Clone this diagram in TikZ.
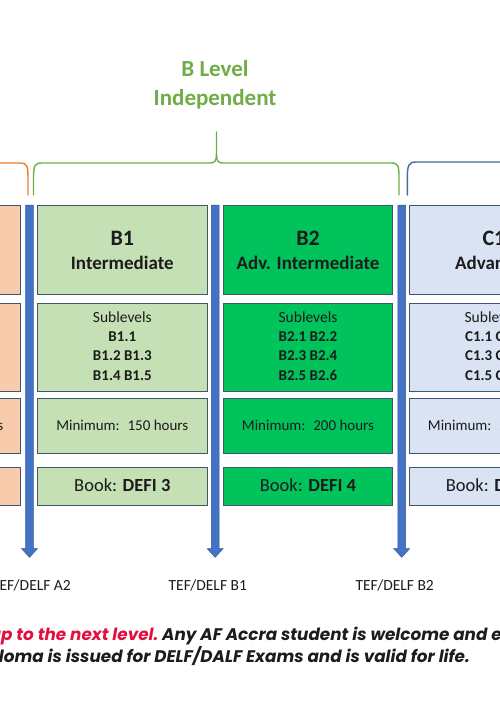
\documentclass[tikz,border=0pt]{standalone}
\usepackage{fontspec}
\setmainfont{Carlito}
\newfontfamily\popfont{Poppins}
\definecolor{peach}{HTML}{F8CBAD}
\definecolor{lgreen}{HTML}{C5E0B4}
\definecolor{bgreen}{HTML}{00C35C}
\definecolor{lblue}{HTML}{DAE3F3}
\definecolor{edge}{HTML}{3E5670}
\definecolor{arrowblue}{HTML}{4472C4}
\definecolor{arrowdark}{HTML}{35599A}
\definecolor{titlegreen}{HTML}{70AD47}
\definecolor{braceorange}{HTML}{ED7D31}
\definecolor{braceblue}{HTML}{4A6A9A}
\definecolor{redtxt}{HTML}{E2103E}
\definecolor{txt}{HTML}{1C1C1C}
\begin{document}
\begin{tikzpicture}[x=1pt,y=-1pt,
  box/.style={draw=edge, line width=0.8pt, minimum width=169.5pt, inner sep=0pt},
  lvl/.style={anchor=base, inner sep=0pt, text=txt, font=\bfseries\fontsize{22}{26}\selectfont},
  lvlname/.style={anchor=base, inner sep=0pt, text=txt, font=\bfseries\fontsize{19}{22}\selectfont},
  subhead/.style={anchor=base, inner sep=0pt, text=txt, font=\fontsize{15.5}{18}\selectfont},
  subcode/.style={anchor=base, inner sep=0pt, text=txt, font=\bfseries\fontsize{15}{18}\selectfont},
  hrs/.style={anchor=base, inner sep=0pt, text=txt, font=\fontsize{15}{18}\selectfont},
  book/.style={anchor=base, inner sep=0pt, text=txt, font=\fontsize{18.5}{22}\selectfont},
  exam/.style={anchor=base, inner sep=0pt, text=txt, font=\fontsize{15.5}{18}\selectfont},
  title/.style={anchor=base, inner sep=0pt, text=titlegreen, font=\bfseries\fontsize{23}{27}\selectfont},
  brace/.style={line width=1.4pt, line cap=round},
  note/.style={inner sep=0pt, text=txt, font=\popfont\bfseries\itshape\fontsize{16.8}{20}\selectfont}]
\useasboundingbox (0,0) rectangle (500,720);
\clip (0,0) rectangle (500,720);
\fill[white] (0,0) rectangle (500,720);

% title
\node[title] (t1) at (215,76.7) {B Level};
\node[title] (t2) at (215,105) {Independent};

% braces
\draw[brace, braceorange] (-5,163) -- (20,163) .. controls (26.5,163) and (28,165) .. (28,178) -- (28,195);
\draw[brace, titlegreen] (33.5,195) -- (33.5,178) .. controls (33.5,165) and (35,163) .. (42,163) -- (210,163)
  .. controls (215,163) and (216.5,161) .. (216.5,154) -- (216.5,132);
\draw[brace, titlegreen] (216.5,154) .. controls (216.5,161) and (218,163) .. (223,163) -- (391,163)
  .. controls (398,163) and (399,165) .. (399,178) -- (399,195);
\draw[brace, braceblue] (407.3,195) -- (407.3,178) .. controls (407.3,165) and (409,162) .. (416,162) -- (505,162);

% boxes
\foreach \cx/\n/\fc in {-64/a2/peach, 122.3/b1/lgreen, 308/b2/bgreen, 494/c1/lblue}{
  \node[box, fill=\fc, minimum height=89pt] (\n head) at (\cx,249.5) {};
  \node[box, fill=\fc, minimum height=88pt] (\n sub) at (\cx,347) {};
  \node[box, fill=\fc, minimum height=55pt] (\n hrs) at (\cx,425.5) {};
  \node[box, fill=\fc, minimum height=38pt] (\n book) at (\cx,486) {};
}

% A2 (mostly hidden)
\node[hrs, anchor=base east] (a2hrstxt) at (3.5,430.7) {hours};

% B1
\node[lvl] (b1t) at (122.3,245.7) {B1};
\node[lvlname] (b1n) at (122.3,269) {Intermediate};
\node[subhead] (b1s0) at (122.3,322.7) {Sublevels};
\node[subcode] (b1s1) at (122.3,341.7) {B1.1};
\node[subcode] (b1s2) at (122.3,360.7) {B1.2 B1.3};
\node[subcode] (b1s3) at (122.3,380) {B1.4 B1.5};
\node[hrs] (b1h) at (122.3,430.7) {Minimum:~ 150 hours};
\node[book] (b1b) at (122.3,491.7) {Book: \textbf{DEFI 3}};

% B2
\node[lvl] (b2t) at (308,245.7) {B2};
\node[lvlname] (b2n) at (308,269) {Adv. Intermediate};
\node[subhead] (b2s0) at (308,322.7) {Sublevels};
\node[subcode] (b2s1) at (308,341.7) {B2.1 B2.2};
\node[subcode] (b2s2) at (308,360.7) {B2.3 B2.4};
\node[subcode] (b2s3) at (308,380) {B2.5 B2.6};
\node[hrs] (b2h) at (308,430.7) {Minimum:~ 200 hours};
\node[book] (b2b) at (308,491.7) {Book: \textbf{DEFI 4}};

% C1 (partly hidden)
\node[lvl] (c1t) at (494,245.7) {C1};
\node[lvlname] (c1n) at (494,269) {Advanced};
\node[subhead] (c1s0) at (494,322.7) {Sublevels};
\node[subcode] (c1s1) at (494,341.7) {C1.1 C1.2};
\node[subcode] (c1s2) at (494,360.7) {C1.3 C1.4};
\node[subcode] (c1s3) at (494,380) {C1.5 C1.6};
\node[hrs] (c1h) at (494,430.7) {Minimum:~ 250 hours};
\node[book] (c1b) at (494,491.7) {Book: \textbf{DEFI 5}};

% arrows
\foreach \ax in {29.5,215.2,401.7}{
  \filldraw[fill=arrowblue, draw=arrowdark, line width=0.5pt]
    (\ax-3.8,205) -- (\ax+3.8,205) -- (\ax+3.8,548.5) -- (\ax+8.1,548.5) -- (\ax,557.3)
    -- (\ax-8.1,548.5) -- (\ax-3.8,548.5) -- cycle;
}

% exam labels
\node[exam, anchor=base east] (ea2) at (71,590) {TEF/DELF A2};
\node[exam] (eb1) at (207.8,590) {TEF/DELF B1};
\node[exam] (eb2) at (394.7,590) {TEF/DELF B2};

% bottom note
\node[note, anchor=base west] (n1) at (162,640.5) {\llap{\color{redtxt}up to the next level.\ }Any AF Accra student is welcome and encouraged};
\node[note, anchor=base east] (n2) at (470,662.5) {Diploma is issued for DELF/DALF Exams and is valid for life.};
\end{tikzpicture}
\end{document}
